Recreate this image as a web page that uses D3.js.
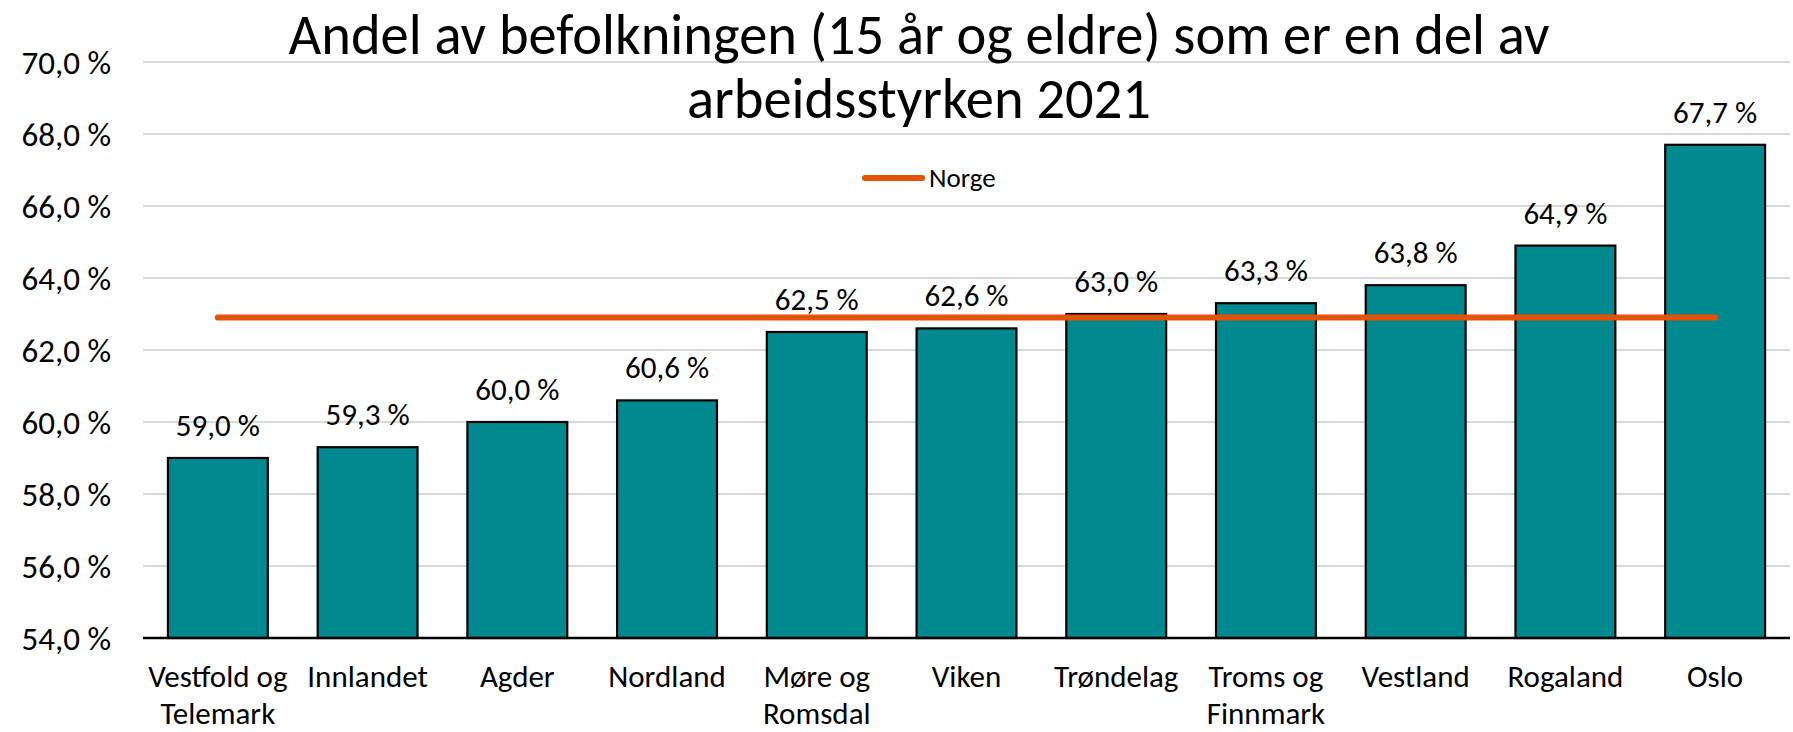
<!DOCTYPE html>
<html>
<head>
<meta charset="utf-8">
<script src="https://cdn.jsdelivr.net/npm/d3@7"></script>
<style>
  body { margin: 0; background: #fff; }
  svg text { font-family: Carlito, Lato, sans-serif; fill: #000; }
</style>
</head>
<body>
<div id="chart"></div>
<script>
// data
var regions = [
  ["Vestfold og", "Telemark"], ["Innlandet"], ["Agder"], ["Nordland"],
  ["Møre og", "Romsdal"], ["Viken"], ["Trøndelag"], ["Troms og", "Finnmark"],
  ["Vestland"], ["Rogaland"], ["Oslo"]
];
var shares = [59.0, 59.3, 60.0, 60.6, 62.5, 62.6, 63.0, 63.3, 63.8, 64.9, 67.7];
var norge = 62.9;
var yTicks = [54, 56, 58, 60, 62, 64, 66, 68, 70];
var titleLines = ["Andel av befolkningen (15 år og eldre) som er en del av", "arbeidsstyrken 2021"];

var w = 1793, h = 732,
    marginLeft = 143, plotRight = 1790, plotTop = 62, plotBottom = 638;

var svg = d3.select("#chart").append("svg")
    .attr("width", w).attr("height", h);

var fmt = function(v) { return d3.format(".1f")(v).replace(".", ",") + " %"; };

var x = d3.scaleBand().domain(d3.range(shares.length)).range([marginLeft, plotRight]).paddingInner(0.333).paddingOuter(0.1665);
var y = d3.scaleLinear().domain([54, 70]).range([plotBottom, plotTop]);

// gridlines
svg.append("g").selectAll("line")
    .data(yTicks.slice(1))
    .enter().append("line")
    .attr("x1", marginLeft).attr("x2", plotRight)
    .attr("y1", function(d) { return y(d); })
    .attr("y2", function(d) { return y(d); })
    .attr("stroke", "#d9d9d9").attr("stroke-width", 2);

// y axis labels
var yAxis = d3.axisLeft(y).tickValues(yTicks).tickFormat(fmt).tickSize(0).tickPadding(32);
var gy = svg.append("g").attr("transform", "translate(" + marginLeft + ",0)").call(yAxis);
gy.select(".domain").remove();
gy.attr("font-size", null).attr("font-family", null);
gy.selectAll("text").style("font-size", "33px").attr("dy", "0.35em");

// bars
svg.append("g").selectAll("rect")
    .data(shares)
    .enter().append("rect")
    .attr("x", function(d, i) { return x(i); })
    .attr("width", x.bandwidth())
    .attr("y", function(d) { return y(d); })
    .attr("height", function(d) { return y(54) - y(d); })
    .attr("fill", "#008a8f")
    .attr("stroke", "#000").attr("stroke-width", 2.2);

// baseline
svg.append("line")
    .attr("x1", marginLeft).attr("x2", plotRight)
    .attr("y1", y(54)).attr("y2", y(54))
    .attr("stroke", "#000").attr("stroke-width", 2.5);

// value labels
svg.append("g").selectAll("text")
    .data(shares)
    .enter().append("text")
    .attr("x", function(d, i) { return x(i) + x.bandwidth() / 2; })
    .attr("y", function(d) { return y(d) - 22; })
    .attr("text-anchor", "middle")
    .style("font-size", "31px")
    .text(fmt);

// Norge line
svg.append("line")
    .attr("x1", x(0) + x.bandwidth() / 2)
    .attr("x2", x(shares.length - 1) + x.bandwidth() / 2)
    .attr("y1", y(norge)).attr("y2", y(norge))
    .attr("stroke", "#e35205").attr("stroke-width", 6)
    .attr("stroke-linecap", "round");

// category labels
var cat = svg.append("g").selectAll("text")
    .data(regions)
    .enter().append("text")
    .attr("text-anchor", "middle")
    .attr("x", function(d, i) { return x(i) + x.bandwidth() / 2; })
    .attr("y", 687)
    .style("font-size", "31px");
cat.selectAll("tspan")
    .data(function(d) { return d; })
    .enter().append("tspan")
    .attr("x", function() { return this.parentNode.getAttribute("x"); })
    .attr("dy", function(d, i) { return i ? 37 : 0; })
    .text(function(d) { return d; });

// title
svg.append("text")
    .attr("text-anchor", "middle")
    .attr("x", 919).attr("y", 54)
    .style("font-size", "56.5px")
    .selectAll("tspan")
    .data(titleLines)
    .enter().append("tspan")
    .attr("x", 919)
    .attr("dy", function(d, i) { return i ? 64 : 0; })
    .text(function(d) { return d; });

// legend
var lg = svg.append("g");
lg.append("line")
    .attr("x1", 865).attr("x2", 922).attr("y1", 178).attr("y2", 178)
    .attr("stroke", "#e35205").attr("stroke-width", 6).attr("stroke-linecap", "round");
lg.append("text")
    .attr("x", 929).attr("y", 178).attr("dy", "0.35em")
    .style("font-size", "27px")
    .text("Norge");
</script>
</body>
</html>
